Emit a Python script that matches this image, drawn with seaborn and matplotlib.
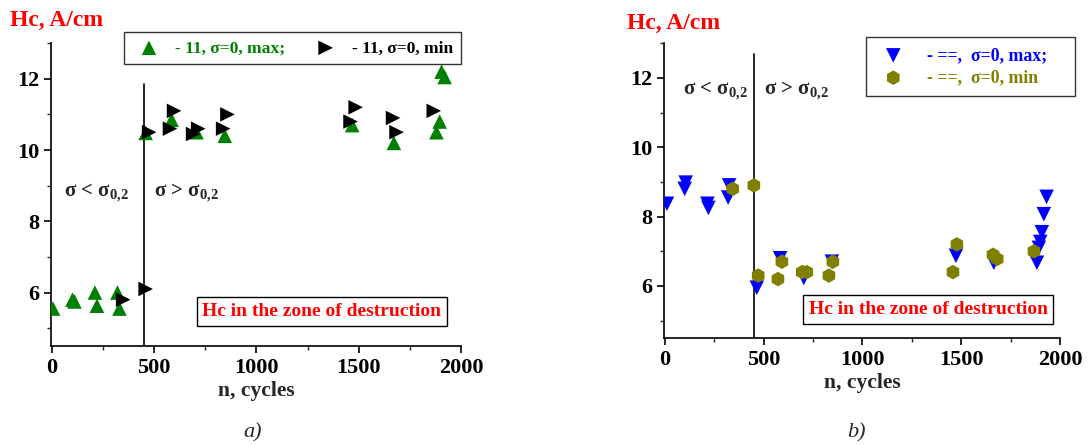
import numpy as np
import pandas as pd
import seaborn as sns
import matplotlib.pyplot as plt
from matplotlib.ticker import MultipleLocator

# panel a) data
a_max_n = [5, 100, 110, 210, 220, 320, 330, 458, 585, 707, 845, 1468, 1672, 1880, 1896, 1905, 1920]
a_max_hc = [5.55, 5.8, 5.75, 6.0, 5.63, 6.0, 5.55, 10.48, 10.85, 10.5, 10.4, 10.7, 10.2, 10.5, 10.8, 12.2, 12.05]
a_min_n = [348, 458, 475, 577, 597, 690, 715, 837, 858, 1460, 1485, 1668, 1685, 1867]
a_min_hc = [5.8, 6.1, 10.5, 10.6, 11.1, 10.45, 10.6, 10.6, 11.0, 10.8, 11.2, 10.9, 10.5, 11.1]

# panel b) data
b_max_n = [10, 105, 100, 215, 220, 325, 320, 465, 583, 703, 845, 1473, 1665, 1883, 1893, 1900, 1908, 1918, 1932]
b_max_hc = [8.37, 8.98, 8.8, 8.37, 8.25, 8.9, 8.55, 5.95, 6.8, 6.23, 6.7, 6.87, 6.67, 6.67, 7.1, 7.27, 7.55, 8.07, 8.57]
b_min_n = [343, 450, 472, 572, 592, 695, 718, 830, 850, 1458, 1478, 1661, 1682, 1868]
b_min_hc = [8.8, 8.9, 6.3, 6.2, 6.7, 6.4, 6.4, 6.3, 6.7, 6.4, 7.2, 6.9, 6.78, 7.0]

boundary_n = 450

sns.set_style('ticks')
plt.rcParams['font.family'] = ['Liberation Serif', 'DejaVu Serif']
plt.rcParams['font.weight'] = 'bold'
plt.rcParams['mathtext.fontset'] = 'custom'
plt.rcParams['mathtext.rm'] = 'Liberation Serif:bold'
plt.rcParams['mathtext.it'] = 'Liberation Serif:bold'
plt.rcParams['mathtext.bf'] = 'Liberation Serif:bold'

fig = plt.figure(figsize=(10.89, 4.45), dpi=100)
ax1 = fig.add_axes([0.0468, 0.2225, 0.3765, 0.6805])
ax2 = fig.add_axes([0.6097, 0.2404, 0.3637, 0.6626])


def style_axis(ax):
    ax.set_xlim(-5, 2000)
    ax.set_ylim(4.5, 13.0)
    ax.xaxis.set_major_locator(MultipleLocator(500))
    ax.xaxis.set_minor_locator(MultipleLocator(250))
    ax.yaxis.set_major_locator(MultipleLocator(2))
    ax.yaxis.set_minor_locator(MultipleLocator(1))
    ax.tick_params(which='major', direction='out', length=5, width=1.2, labelsize=16, colors='black')
    ax.tick_params(which='minor', direction='out', length=3, width=1.0)
    for lbl in ax.get_xticklabels() + ax.get_yticklabels():
        lbl.set_fontweight('bold')
    for s in ['top', 'right']:
        ax.spines[s].set_visible(False)
    for s in ['left', 'bottom']:
        ax.spines[s].set_linewidth(1.2)
        ax.spines[s].set_color('black')
    ax.set_xlabel('n, cycles', fontsize=15.5, fontweight='bold', labelpad=2)
    ax.set_ylabel('')


# ---- panel a)
sns.scatterplot(x=a_max_n, y=a_max_hc, ax=ax1, marker='^', color='#008000', s=110,
                edgecolor='none', label='- 11, σ=0, max;', zorder=3)
sns.scatterplot(x=a_min_n, y=a_min_hc, ax=ax1, marker='>', color='black', s=110,
                edgecolor='none', label='- 11, σ=0, min', zorder=3)
style_axis(ax1)
ax1.plot([boundary_n, boundary_n], [4.5, 11.85], color='black', lw=1.2)
ax1.text(60, 8.8, 'σ < σ$_{0{,}2}$', fontsize=15, fontweight='bold', ha='left', va='center')
ax1.text(500, 8.8, 'σ > σ$_{0{,}2}$', fontsize=15, fontweight='bold', ha='left', va='center')
ax1.text(1320, 5.47, 'Hc in the zone of destruction', color='#ff0000', fontsize=14,
         fontweight='bold', ha='center', va='center',
         bbox=dict(boxstyle='square,pad=0.3', fc='white', ec='black', lw=1))
leg1 = ax1.legend(loc='upper right', bbox_to_anchor=(1.0, 1.036), borderaxespad=0, ncol=2,
                  frameon=True, fancybox=False, edgecolor='black', handletextpad=0.5,
                  columnspacing=1.3, borderpad=0.45, prop={'weight': 'bold', 'size': 12.6})
leg1.get_frame().set_linewidth(1.0)
leg1.get_texts()[0].set_color('#008000')
leg1.get_texts()[1].set_color('black')
fig.text(0.009, 0.955, 'Hc, A/cm', color='#ff0000', fontsize=17, fontweight='bold',
         ha='left', va='center')
fig.text(0.232, 0.027, 'a)', fontsize=16, fontstyle='italic', fontweight='normal',
         ha='center', va='center')

# ---- panel b)
sns.scatterplot(x=b_max_n, y=b_max_hc, ax=ax2, marker='v', color='#0000ff', s=110,
                edgecolor='none', label='- ==,  σ=0, max;    ', zorder=3)
sns.scatterplot(x=b_min_n, y=b_min_hc, ax=ax2, marker='h', color='#808000', s=110,
                edgecolor='none', label='- ==,  σ=0, min', zorder=3)
style_axis(ax2)
ax2.plot([boundary_n, boundary_n], [4.5, 12.7], color='black', lw=1.2)
ax2.text(90, 11.62, 'σ < σ$_{0{,}2}$', fontsize=15, fontweight='bold', ha='left', va='center')
ax2.text(500, 11.62, 'σ > σ$_{0{,}2}$', fontsize=15, fontweight='bold', ha='left', va='center')
ax2.text(1332, 5.33, 'Hc in the zone of destruction', color='#ff0000', fontsize=14,
         fontweight='bold', ha='center', va='center',
         bbox=dict(boxstyle='square,pad=0.3', fc='white', ec='black', lw=1))
leg2 = ax2.legend(loc='upper right', bbox_to_anchor=(1.038, 1.02), borderaxespad=0, ncol=1,
                  frameon=True, fancybox=False, edgecolor='black', handletextpad=0.9,
                  borderpad=0.55, labelspacing=0.3, prop={'weight': 'bold', 'size': 12.8})
leg2.get_frame().set_linewidth(1.0)
leg2.get_texts()[0].set_color('#0000ff')
leg2.get_texts()[1].set_color('#808000')
fig.text(0.576, 0.948, 'Hc, A/cm', color='#ff0000', fontsize=17, fontweight='bold',
         ha='left', va='center')
fig.text(0.786, 0.027, 'b)', fontsize=16, fontstyle='italic', fontweight='normal',
         ha='center', va='center')

fig.savefig('out.png', dpi=100)
